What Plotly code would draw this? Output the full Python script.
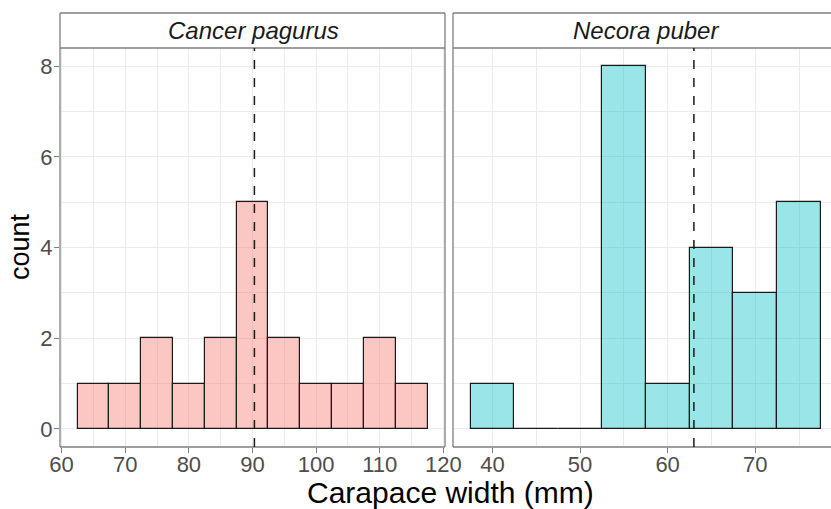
import plotly.graph_objects as go

# ---- data ----
species = ["Cancer pagurus", "Necora puber"]
cp_bin_centers = [65, 70, 75, 80, 85, 90, 95, 100, 105, 110, 115]
cp_counts = [1, 1, 2, 1, 2, 5, 2, 1, 1, 2, 1]
np_bin_centers = [40, 45, 50, 55, 60, 65, 70, 75]
np_counts = [1, 0, 0, 8, 1, 4, 3, 5]
bin_width = 5
mean_widths = [90.3, 63.0]
cp_xticks = [60, 70, 80, 90, 100, 110, 120]
np_xticks = [40, 50, 60, 70]
y_ticks = [0, 2, 4, 6, 8]

W, H = 831, 509
def px_x(p):
    return p / W
def px_y(p):
    return (H - p) / H

fill_colors = ["rgba(248,118,109,0.42)", "rgba(0,191,196,0.40)"]
FONT = "Liberation Sans, Arial, sans-serif"

fig = go.Figure()
fig.add_trace(go.Bar(x=cp_bin_centers, y=cp_counts, width=bin_width,
                     marker=dict(color=fill_colors[0], line=dict(color="#1A1A1A", width=1.2)),
                     xaxis="x", yaxis="y", showlegend=False))
fig.add_trace(go.Bar(x=np_bin_centers, y=np_counts, width=bin_width,
                     marker=dict(color=fill_colors[1], line=dict(color="#1A1A1A", width=1.2)),
                     xaxis="x2", yaxis="y2", showlegend=False))

ydom = [px_y(447), px_y(48)]
strip_top = px_y(13)
grid = "#EBEBEB"
tickfont = dict(family=FONT, size=22, color="#4D4D4D")
common_x = dict(showgrid=True, gridcolor=grid, gridwidth=1, zeroline=False,
                ticks="outside", ticklen=5, tickcolor="#7F7F7F", tickwidth=1,
                tickfont=tickfont, showline=False, automargin=False,
                ticklabelstandoff=-7,
                minor=dict(showgrid=True, gridcolor=grid, gridwidth=0.6, dtick=5, ticks=""))
fig.update_layout(
    width=W, height=H, margin=dict(l=0, r=0, t=0, b=0),
    paper_bgcolor="white", plot_bgcolor="white", bargap=0,
    xaxis=dict(domain=[px_x(60), px_x(445)], range=[59.75, 120.25],
               tickvals=cp_xticks, anchor="y", **common_x),
    xaxis2=dict(domain=[px_x(453), 1.0], range=[35.5, 78.65],
                tickvals=np_xticks, anchor="y2", **common_x),
    yaxis=dict(domain=ydom, range=[-0.4, 8.4], tickvals=y_ticks,
               showgrid=True, gridcolor=grid, gridwidth=1, zeroline=False,
               ticks="outside", ticklen=5, tickcolor="#7F7F7F", tickfont=tickfont,
               ticklabelstandoff=-3,
               automargin=False, minor=dict(showgrid=True, gridcolor=grid, gridwidth=0.6, dtick=1)),
    yaxis2=dict(domain=ydom, range=[-0.4, 8.4], tickvals=y_ticks, showticklabels=False,
                anchor="x2", showgrid=True, gridcolor=grid, gridwidth=1, zeroline=False,
                ticks="", automargin=False,
                minor=dict(showgrid=True, gridcolor=grid, gridwidth=0.6, dtick=1)),
)

border = "#7F7F7F"
bline = dict(color=border, width=1.3)
panels_x = [(px_x(60), px_x(445)), (px_x(453), 1.0)]
shapes = []

def seg(x0, y0, x1, y1, line):
    return dict(type="line", xref="paper", yref="paper", x0=x0, y0=y0, x1=x1, y1=y1,
                line=line, layer="above")

for i in range(2):
    x0, x1 = panels_x[i]
    shapes.append(dict(type="rect", xref="paper", yref="paper", x0=x0, x1=x1,
                       y0=ydom[1], y1=strip_top, line=dict(color="rgba(0,0,0,0)", width=0),
                       fillcolor="white", layer="above"))
for i in range(2):
    x0, x1 = panels_x[i]
    for y in (ydom[0], ydom[1], strip_top):
        shapes.append(seg(x0, y, x1, y, bline))
    shapes.append(seg(x0, ydom[0], x0, strip_top, bline))
    if i == 0:
        shapes.append(seg(x1, ydom[0], x1, strip_top, bline))
for i, xa in enumerate(["x", "x2"]):
    shapes.append(dict(type="line", xref=xa, yref="paper",
                       x0=mean_widths[i], x1=mean_widths[i], y0=ydom[0], y1=ydom[1],
                       line=dict(color="#1A1A1A", width=1.5, dash="dash"), layer="above"))
fig.update_layout(shapes=shapes)

annotations = []
strip_centers = [px_x(253), px_x(646)]
for i in range(2):
    annotations.append(dict(text=f"<i>{species[i]}</i>", xref="paper", yref="paper",
                            x=strip_centers[i], y=(ydom[1] + strip_top) / 2,
                            showarrow=False, xanchor="center", yanchor="middle",
                            font=dict(family=FONT, size=24, color="#1A1A1A")))
annotations.append(dict(text="Carapace width (mm)", xref="paper", yref="paper",
                        x=px_x(450), y=px_y(492), showarrow=False, xanchor="center", yanchor="middle",
                        font=dict(family=FONT, size=30, color="black")))
annotations.append(dict(text="count", xref="paper", yref="paper", textangle=-90,
                        x=px_x(20), y=px_y(247), showarrow=False, xanchor="center", yanchor="middle",
                        font=dict(family=FONT, size=27, color="black")))
fig.update_layout(annotations=annotations)

fig.write_html("out.html", config={"responsive": False, "displayModeBar": False},
               post_script="document.body.style.margin='0';document.body.style.overflow='hidden';")
